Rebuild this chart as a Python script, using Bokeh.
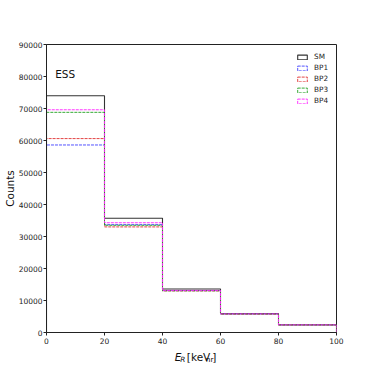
from bokeh.plotting import figure
from bokeh.layouts import column
from bokeh.models import Legend, LegendItem, FixedTicker, Label
from bokeh.core.properties import value
from bokeh.embed import file_html
from bokeh.resources import INLINE

edges = [0, 20, 40, 60, 80, 100]
series_names = ["SM", "BP1", "BP2", "BP3", "BP4"]
sm = [74000, 35700, 13600, 5950, 2400]
bp1 = [58600, 33700, 13100, 5800, 2380]
bp2 = [60600, 33000, 13000, 5750, 2360]
bp3 = [68800, 33500, 13050, 5780, 2370]
bp4 = [69600, 34300, 13150, 5820, 2390]
x_ticks = [0, 20, 40, 60, 80, 100]
y_ticks = [0, 10000, 20000, 30000, 40000, 50000, 60000, 70000, 80000, 90000]

series = [sm, bp1, bp2, bp3, bp4]
colors = ["#333333", "#4040ff", "#e03030", "#20a020", "#ff20ff"]
dashes = ["solid", "3 1", "3 1", "3 1", "3 1"]

p = figure(width=374, height=346, output_backend="svg", toolbar_location=None,
           x_range=(0, 100), y_range=(0, 90000),
           min_border_left=46, min_border_right=38, min_border_top=44, min_border_bottom=14)
p.grid.visible = False
p.outline_line_color = "#222222"
p.outline_line_width = 1
p.background_fill_color = "white"
p.border_fill_color = "white"

for ax in (p.xaxis[0], p.yaxis[0]):
    ax.major_label_text_font = "DejaVu Sans"
    ax.major_label_text_font_size = "7.5px"
    ax.major_label_text_color = "#222222"
    ax.axis_line_color = "#222222"
    ax.major_tick_line_color = "#222222"
    ax.major_tick_out = 3
    ax.major_tick_in = 0
    ax.minor_tick_line_color = None
    ax.major_label_standoff = 2
p.yaxis.major_label_standoff = 1
p.xaxis.ticker = FixedTicker(ticks=x_ticks)
p.yaxis.ticker = FixedTicker(ticks=y_ticks)

p.yaxis.axis_label = "Counts"
p.yaxis.axis_label_text_font = "DejaVu Sans"
p.yaxis.axis_label_text_font_size = "10.5px"
p.yaxis.axis_label_text_font_style = "normal"
p.yaxis.axis_label_text_color = "#111111"
p.yaxis.axis_label_standoff = 0

def step_outline(vals):
    xs, ys = [edges[0]], [0]
    for i, v in enumerate(vals):
        xs += [edges[i], edges[i + 1]]
        ys += [v, v]
    xs.append(edges[-1])
    ys.append(0)
    return xs, ys

items = []
for name, vals, c, d in zip(series_names, series, colors, dashes):
    xs, ys = step_outline(vals)
    r = p.patch(xs, ys, fill_color=None, line_color=c, line_dash=d,
                line_width=1.1 if name == "SM" else 0.9)
    items.append(LegendItem(label=name, renderers=[r]))

legend = Legend(items=items, location=(250, 226),
                label_text_font="DejaVu Sans", label_text_font_size="7.3px",
                label_text_color="#222222",
                glyph_width=12, glyph_height=6, label_height=11, label_standoff=6,
                label_width=14, spacing=0, padding=2, margin=0,
                border_line_color=None, background_fill_alpha=0)
p.add_layout(legend)

p.add_layout(Label(x=3, y=79000, text="ESS", text_font="DejaVu Sans",
                   text_font_size="10.5px", text_color="#111111"))

# x-axis title strip: E_R [keV_nr]
q = figure(width=374, height=28, output_backend="svg", toolbar_location=None,
           x_range=(0, 374), y_range=(0, 28), x_axis_type=None, y_axis_type=None,
           min_border=0, min_border_left=0, min_border_right=0,
           min_border_top=0, min_border_bottom=0)
q.grid.visible = False
q.outline_line_color = None
q.background_fill_color = "white"
q.border_fill_color = "white"

big = [(165.5, 17.5, "E", "italic"), (181.0, 17.5, "[keV", "normal"), (213.6, 17.5, "]", "normal")]
small = [(172.5, 15.0, "R", "italic"), (205.5, 15.0, "nr", "normal")]
for x0, y0, t, st in big:
    q.text(x=[x0], y=[y0], text=[t], text_font=value("DejaVu Sans"),
           text_font_size=value("10.5px"), text_font_style=value(st),
           text_baseline=value("alphabetic"), text_align=value("left"),
           text_color="#111111")
for x0, y0, t, st in small:
    q.text(x=[x0], y=[y0], text=[t], text_font=value("DejaVu Sans"),
           text_font_size=value("7.3px"), text_font_style=value(st),
           text_baseline=value("alphabetic"), text_align=value("left"),
           text_color="#111111")

layout = column(p, q, spacing=0)
open("out.html", "w").write(file_html(layout, INLINE))
